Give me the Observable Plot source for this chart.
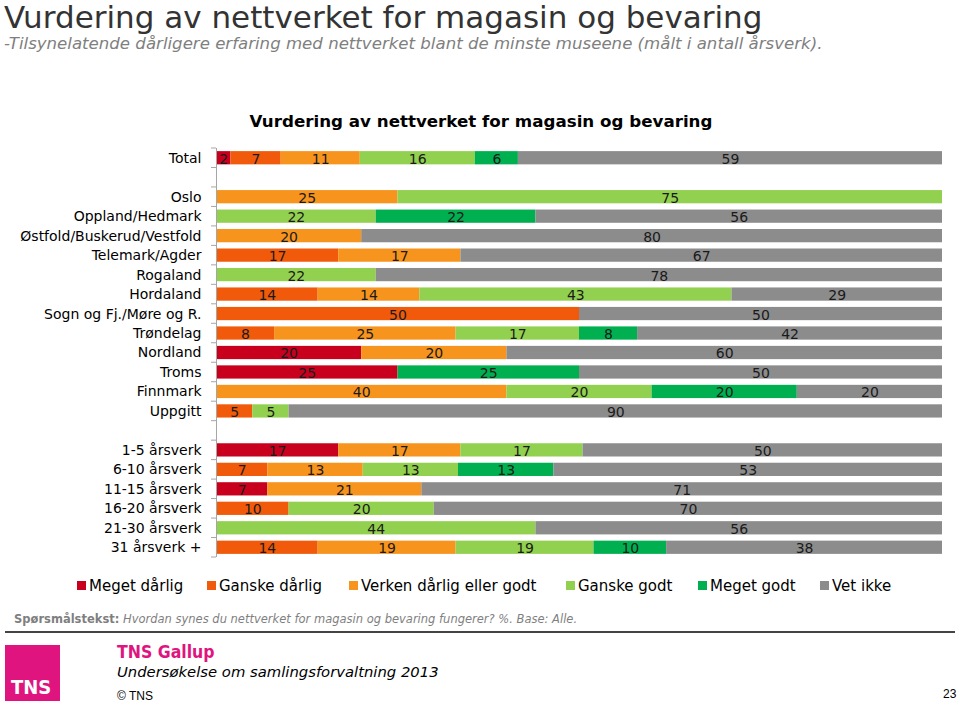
<!DOCTYPE html>
<html><head><meta charset="utf-8">
<script src="https://cdn.jsdelivr.net/npm/d3@7"></script>
<script src="https://cdn.jsdelivr.net/npm/@observablehq/plot@0.6"></script>
<style>
body{margin:0;width:960px;height:705px;position:relative;background:#fff;overflow:hidden;font-family:"DejaVu Sans",Verdana,sans-serif;}
.abs{position:absolute;white-space:nowrap;}
</style></head><body>
<div class="abs" id="t1" style="left:4px;top:1px;font-size:31px;line-height:32px;color:#333;font-family:'DejaVu Sans';">Vurdering av nettverket for magasin og bevaring</div>
<div class="abs" id="t2" style="left:4px;top:34px;font-size:16.6px;line-height:20px;color:#7f7f7f;font-style:italic;">-Tilsynelatende dårligere erfaring med nettverket blant de minste museene (målt i antall årsverk).</div>
<div class="abs" id="ct" style="left:0;width:962px;text-align:center;top:111px;font-size:16.7px;font-weight:bold;color:#000;">Vurdering av nettverket for magasin og bevaring</div>
<div id="chart" class="abs" style="left:0;top:140px;line-height:0;"></div>
<div id="legend" class="abs" style="left:0;top:577px;font-size:15px;color:#000;"></div>
<div class="abs" style="left:14px;top:612px;font-size:11.5px;color:#7f7f7f;"><b>Spørsmålstekst:</b> <i>Hvordan synes du nettverket for magasin og bevaring fungerer? %. Base: Alle.</i></div>
<div class="abs" style="left:5px;top:631px;width:950px;height:2px;background:#444;"></div>
<div class="abs" style="left:5px;top:645px;width:55px;height:56px;background:#E0147F;"></div>
<div class="abs" style="left:11px;top:675px;font-family:'DejaVu Sans Condensed','DejaVu Sans';font-weight:bold;font-size:20px;color:#fff;">TNS</div>
<div class="abs" style="left:117px;top:642px;font-family:'DejaVu Sans Condensed','DejaVu Sans';font-weight:bold;font-size:17.5px;color:#E0147F;">TNS Gallup</div>
<div class="abs" style="left:117px;top:663px;font-size:14.8px;font-style:italic;color:#000;">Undersøkelse om samlingsforvaltning 2013</div>
<div class="abs" style="left:117px;top:689px;font-family:'Liberation Sans',Arial;font-size:12px;color:#000;">© TNS</div>
<div class="abs" style="left:943px;top:687px;font-family:'Liberation Sans',Arial;font-size:12px;color:#000;">23</div>
<script>
const seriesNames = ["Meget dårlig","Ganske dårlig","Verken dårlig eller godt","Ganske godt","Meget godt","Vet ikke"];
const seriesColors = ["#C8001E","#F05A0A","#F7941D","#92D050","#00B050","#8C8C8C"];
const categories = ["Total"," ","Oslo","Oppland/Hedmark","Østfold/Buskerud/Vestfold","Telemark/Agder","Rogaland","Hordaland","Sogn og Fj./Møre og R.","Trøndelag","Nordland","Troms","Finnmark","Uppgitt","  ","1-5 årsverk","6-10 årsverk","11-15 årsverk","16-20 årsverk","21-30 årsverk","31 årsverk +"];
// values per series, aligned with categories (0 = no segment)
const megetDarlig   = [2,0, 0,0,0,0,0,0,0,0,20,25,0,0, 0, 17,0,7,0,0,0];
const ganskeDarlig  = [7,0, 0,0,0,17,0,14,50,8,0,0,0,5, 0, 0,7,0,10,0,14];
const verken        = [11,0, 25,0,20,17,0,14,0,25,20,0,40,0, 0, 17,13,21,0,0,19];
const ganskeGodt    = [16,0, 75,22,0,0,22,43,0,17,0,0,20,5, 0, 17,13,0,20,44,19];
const megetGodt     = [6,0, 0,22,0,0,0,0,0,8,0,25,20,0, 0, 0,13,0,0,0,10];
const vetIkke       = [59,0, 0,56,80,67,78,29,50,42,60,50,20,90, 0, 50,53,71,70,56,38];
const seriesValues = [megetDarlig,ganskeDarlig,verken,ganskeGodt,megetGodt,vetIkke];

const data = [];
seriesNames.forEach((s,si)=>{
  categories.forEach((c,ci)=>{
    const v = seriesValues[si][ci];
    if (v>0) data.push({cat:c, series:s, value:v});
  });
});

const stackOpts = {x:"value", y:"cat", z:"series", offset:"normalize", order:seriesNames};
const chart = Plot.plot({
  width:960, height:425,
  marginLeft:216, marginRight:18, marginTop:8, marginBottom:8,
  style:{fontFamily:"'DejaVu Sans',Verdana,sans-serif", fontSize:"14px", background:"transparent"},
  x:{domain:[0,1], axis:null},
  y:{domain:categories, paddingInner:0.32, paddingOuter:0.16, round:false, axis:null},
  color:{domain:seriesNames, range:seriesColors},
  marks:[
    Plot.barX(data, Plot.stackX({...stackOpts, fill:"series"})),
    Plot.textX(data, Plot.stackX({...stackOpts, text:d=>String(d.value), fill:"#1a1a1a", fontSize:14, dy:1})),
    Plot.axisY({tickSize:0, tickPadding:15, fontSize:14, fontFamily:"'DejaVu Sans',Verdana,sans-serif", fill:"#000", textAnchor:"end", label:null, tickFormat:d=>d.trim()}),
    Plot.ruleX([0], {stroke:"#A6A6A6", strokeWidth:1})
  ]
});
document.getElementById("chart").appendChild(chart);

// Excel-style tick marks at category band boundaries, from Plot's own y scale
const ys = chart.scale("y");
const half = ys.step/2;
const svg = d3.select(chart);
const x0 = chart.scale("x").apply(0);
const bnds = categories.map(c=>ys.apply(c) + ys.bandwidth/2 - half);
bnds.push(ys.apply(categories[categories.length-1]) + ys.bandwidth/2 + half);
svg.append("g").selectAll("line").data(bnds).join("line")
  .attr("x1", x0-5).attr("x2", x0).attr("y1", d=>d).attr("y2", d=>d)
  .attr("stroke","#A6A6A6");

// legend
const lg = d3.select("#legend");
const lgX = [77,207,349,566,698,820];
seriesNames.forEach((s,i)=>{
  const it = lg.append("div").style("position","absolute").style("left",lgX[i]+"px").style("top","0px").style("white-space","nowrap");
  it.append("span").style("display","inline-block").style("width","9px").style("height","9px").style("background",seriesColors[i]).style("margin-right","3px").style("vertical-align","1px");
  it.append("span").text(s);
});
</script>
</body></html>
